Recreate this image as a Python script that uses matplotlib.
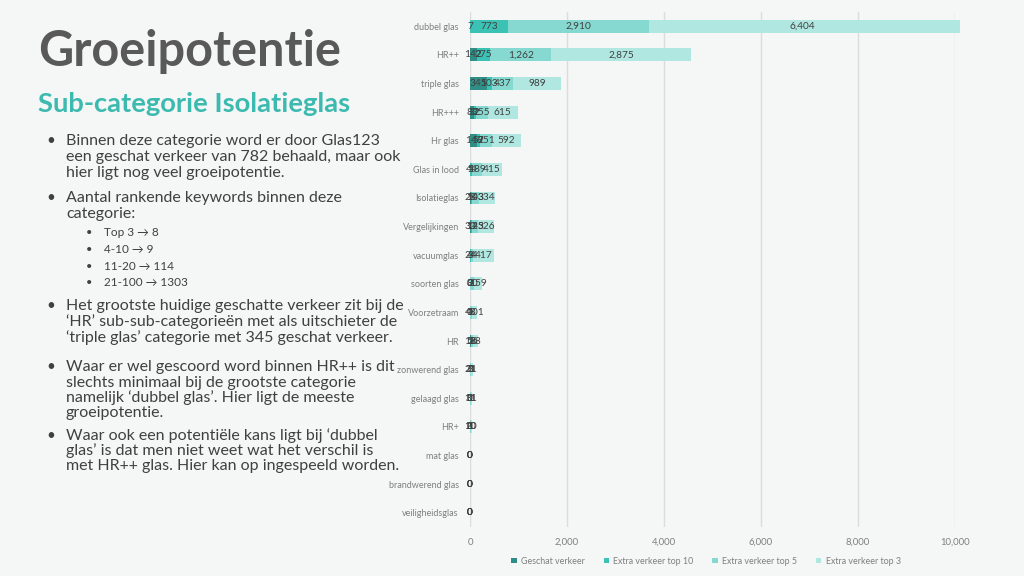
import matplotlib
matplotlib.use("Agg")
import matplotlib.pyplot as plt
import numpy as np

plt.rcParams['font.family'] = ['Lato', 'DejaVu Sans']

categories = ['dubbel glas', 'HR++', 'triple glas', 'HR+++', 'Hr glas', 'Glas in lood',
              'Isolatieglas', 'Vergelijkingen', 'vacuumglas', 'soorten glas', 'Voorzetraam',
              'HR', 'zonwerend glas', 'gelaagd glas', 'HR+', 'mat glas',
              'brandwerend glas', 'veiligheidsglas']
geschat = [7, 142, 345, 83, 148, 5, 28, 30, 3, 2, 1, 12, 3, 1, 1, 0, 0, 0]
top10 = [773, 275, 103, 32, 57, 44, 10, 14, 24, 0, 0, 2, 0, 0, 0, 0, 0, 0]
top5 = [2910, 1262, 437, 255, 251, 189, 143, 125, 44, 80, 48, 56, 21, 11, 10, 0, 0, 0]
top3 = [6404, 2875, 989, 615, 592, 415, 334, 326, 417, 159, 101, 88, 31, 31, 20, 0, 0, 0]

series = ['Geschat verkeer', 'Extra verkeer top 10', 'Extra verkeer top 5', 'Extra verkeer top 3']
colors = ['#2f8f86', '#3cc2b5', '#85d9d0', '#b1e7e1']

bg = '#f5f6f6'
fig = plt.figure(figsize=(10.24, 5.76), dpi=100, facecolor=bg)

# left text panel
fig.text(38 / 1024, 1 - 52 / 576, 'Groeipotentie', fontsize=35, fontweight='bold',
         color='#595959', va='center', ha='left')
fig.text(38 / 1024, 1 - 104 / 576, 'Sub-categorie Isolatieglas', fontsize=19.7,
         fontweight='bold', color='#3dbab0', va='center', ha='left')

txt = '#404040'
main_lines = [
    (141, True, 'Binnen deze categorie word er door Glas123'),
    (157, False, 'een geschat verkeer van 782 behaald, maar ook'),
    (173, False, 'hier ligt nog veel groeipotentie.'),
    (198, True, 'Aantal rankende keywords binnen deze'),
    (214, False, 'categorie:'),
    (306, True, 'Het grootste huidige geschatte verkeer zit bij de'),
    (322, False, '‘HR’ sub-sub-categorieën met als uitschieter de'),
    (338, False, '‘triple glas’ categorie met 345 geschat verkeer.'),
    (367, True, 'Waar er wel gescoord word binnen HR++ is dit'),
    (383, False, 'slechts minimaal bij de grootste categorie'),
    (398, False, 'namelijk ‘dubbel glas’. Hier ligt de meeste'),
    (413, False, 'groeipotentie.'),
    (436, True, 'Waar ook een potentiële kans ligt bij ‘dubbel'),
    (451, False, 'glas’ is dat men niet weet wat het verschil is'),
    (466, False, 'met HR++ glas. Hier kan op ingespeeld worden.'),
]
for y, bullet, s in main_lines:
    if bullet:
        fig.text(46 / 1024, 1 - y / 576, '•', fontsize=11, color=txt, va='center')
    fig.text(66 / 1024, 1 - y / 576, s, fontsize=11.5, color=txt, va='center')

sub_lines = [(233, 'Top 3 → 8'), (249, '4-10 → 9'), (266, '11-20 → 114'), (283, '21-100 → 1303')]
for y, s in sub_lines:
    fig.text(86 / 1024, 1 - y / 576, '•', fontsize=8, color=txt, va='center')
    fig.text(104 / 1024, 1 - y / 576, s, fontsize=8.5, color=txt, va='center')

# chart
ax = fig.add_axes([470 / 1024, 1 - 527 / 576, 485 / 1024, (527 - 12) / 576])
ax.set_facecolor(bg)
y = np.arange(len(categories))
left = np.zeros(len(categories))
for vals, name, c in zip([geschat, top10, top5, top3], series, colors):
    bars = ax.barh(y, vals, left=left, height=0.45, color=c, label=name, zorder=3, clip_on=False)
    ax.bar_label(bars, labels=[f'{v:,}' for v in vals], label_type='center',
                 fontsize=7.3, color='#404040', zorder=4)
    left += np.array(vals)

ax.set_xlim(0, 10000)
ax.set_ylim(len(categories) - 0.5, -0.5)
ax.set_yticks(y)
ax.set_yticklabels(categories, fontsize=6.5, color='#7f7f7f')
ax.set_xticks(np.arange(0, 10001, 2000))
ax.set_xticklabels([f'{v:,}' for v in range(0, 10001, 2000)], fontsize=6.8, color='#7f7f7f')
ax.tick_params(length=0, pad=8)
ax.grid(axis='x', color='#dcdcdc', linewidth=1, zorder=0)
for sp in ax.spines.values():
    sp.set_visible(False)

fig.legend(loc='center', bbox_to_anchor=(706 / 1024, 1 - 561 / 576), ncol=4, frameon=False,
           fontsize=6.4, labelcolor='#7f7f7f', handlelength=0.6, handleheight=0.6,
           columnspacing=2.1, handletextpad=0.5)

fig.savefig('out.png', dpi=100, facecolor=bg)
